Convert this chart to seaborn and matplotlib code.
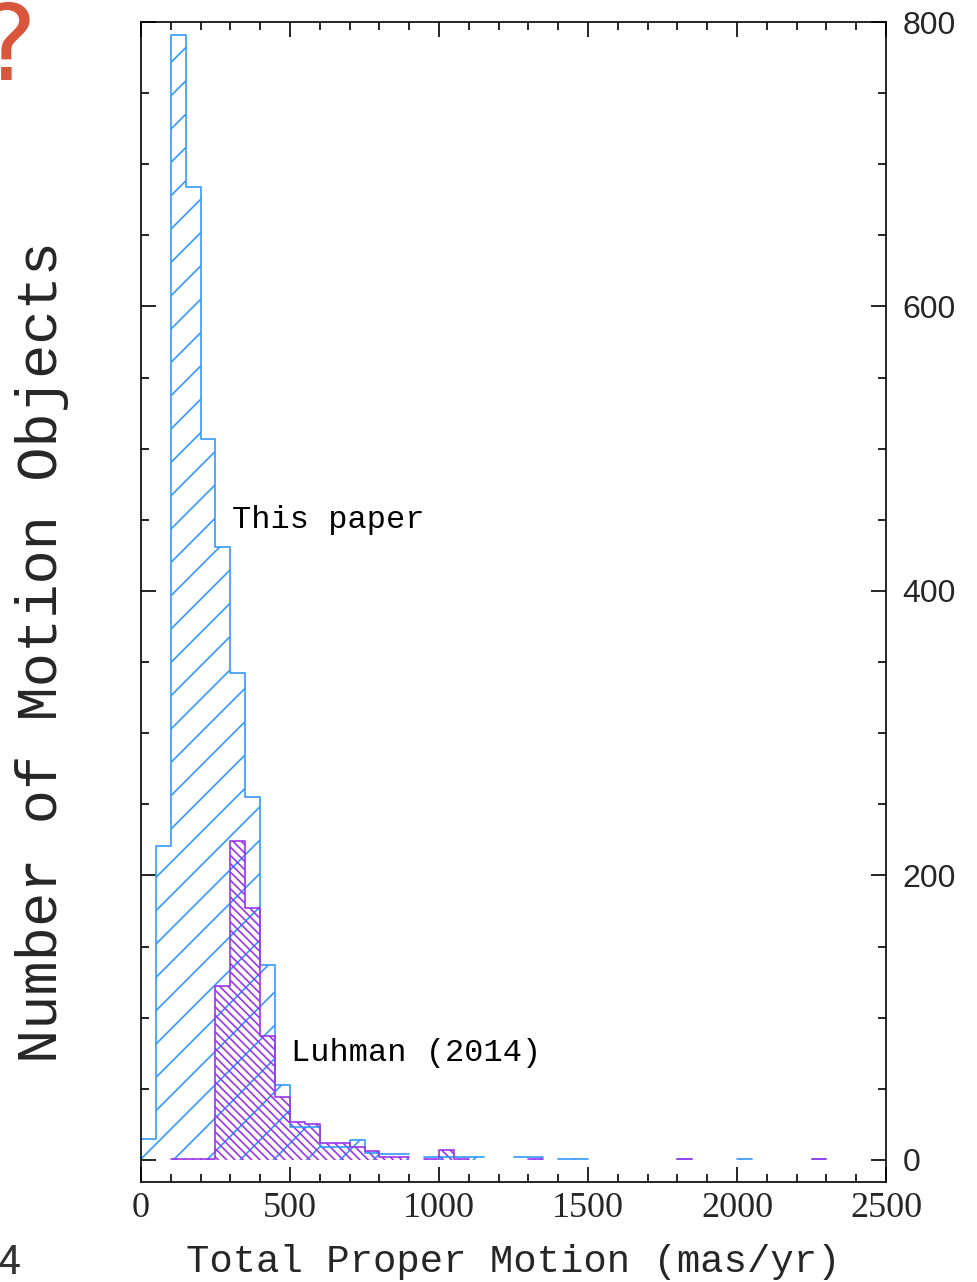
import numpy as np
import pandas as pd
import matplotlib
matplotlib.use("Agg")
import matplotlib.pyplot as plt
from matplotlib.ticker import MultipleLocator
import seaborn as sns

# ---------------- data ----------------
bin_width = 50          # mas/yr
x_range = (0, 2500)

# "This paper": left edge of each non-empty bin and its count
this_lo = [0, 50, 100, 150, 200, 250, 300, 350, 400, 450, 500, 550, 600, 650,
           700, 750, 800, 850, 950, 1000, 1050, 1100, 1250, 1300, 1400, 1450,
           1800, 2000, 2250]
this_n = [15, 221, 791, 684, 507, 431, 342, 255, 137, 53, 23, 23, 9, 9,
          14, 5, 4, 4, 2, 2, 2, 2, 2, 2, 1, 1, 1, 1, 1]

# "Luhman (2014)"
luh_lo = [100, 150, 200, 250, 300, 350, 400, 450, 500, 550, 600, 650, 700,
          750, 800, 850, 950, 1000, 1050, 1300, 1800, 2250]
luh_n = [1, 1, 1, 122, 224, 177, 87, 44, 27, 25, 12, 12, 9, 6, 2, 2, 1, 7,
         1, 1, 1, 1]

x_ticks = [0, 500, 1000, 1500, 2000, 2500]
y_ticks = [0, 200, 400, 600, 800]

label_this = "This paper"
label_luh = "Luhman (2014)"
x_title = "Total Proper Motion (mas/yr)"
y_title = "Number of Motion Objects"

# ---------------- style ----------------
sns.set_style("ticks")
plt.rcParams["hatch.linewidth"] = 1.2
plt.rcParams["axes.linewidth"] = 1.2

BLUE = "#3399ff"
PURPLE = "#9a36ec"
BACKSLASH = chr(92)

fig = plt.figure(figsize=(9.78, 12.82), dpi=100)
ax = fig.add_axes([141 / 978, 1 - 1182 / 1282, (886 - 141) / 978, (1182 - 22) / 1282])

all_edges = [float(v) for v in np.arange(x_range[0], x_range[1] + bin_width, bin_width)]


def runs(lo, n):
    groups = []
    cur_lo, cur_n = [lo[0]], [n[0]]
    for a, b in zip(lo[1:], n[1:]):
        if a == cur_lo[-1] + bin_width:
            cur_lo.append(a)
            cur_n.append(b)
        else:
            groups.append((cur_lo, cur_n))
            cur_lo, cur_n = [a], [b]
    groups.append((cur_lo, cur_n))
    return groups


def hist(lo, n, bins, **kws):
    df = pd.DataFrame({"pm": [v + bin_width / 2 for v in lo],
                       "count": [float(c) for c in n]})
    sns.histplot(data=df, x="pm", weights="count", bins=bins,
                 element="step", ax=ax, **kws)


def draw(lo, n, color, hatch):
    before = len(ax.collections)
    hist(lo, n, all_edges, fill=True, color=color, linewidth=0)
    for coll in ax.collections[before:]:
        coll.set_facecolor("none")
        coll.set_edgecolor(color)
        coll.set_linewidth(0)
        coll.set_hatch(hatch)
    for rlo, rn in runs(lo, n):
        e = [float(v) for v in np.arange(rlo[0], rlo[-1] + 2 * bin_width, bin_width)]
        hist(rlo, rn, e, fill=False, color=color, linewidth=1.2)


draw(this_lo, this_n, BLUE, "/")
draw(luh_lo, luh_n, PURPLE, BACKSLASH * 4)

ax.set_xlim(*x_range)
ax.set_ylim(-15.5, 800)
ax.set_xlabel("")
ax.set_ylabel("")

ax.set_xticks(x_ticks, [str(v) for v in x_ticks],
              fontfamily="Liberation Serif", fontsize=26)
ax.set_yticks(y_ticks, [str(v) for v in y_ticks],
              fontfamily="Liberation Sans", fontsize=23)
ax.xaxis.set_minor_locator(MultipleLocator(100))
ax.yaxis.set_minor_locator(MultipleLocator(50))
ax.tick_params(which="both", direction="in", top=True, bottom=True,
               left=True, right=True, labelleft=False, labelright=True,
               width=1.2, color="black")
ax.tick_params(which="major", length=11)
ax.tick_params(which="minor", length=5.5)
ax.tick_params(axis="x", which="major", pad=7)
ax.tick_params(axis="y", which="major", pad=12)
for s in ax.spines.values():
    s.set_visible(True)
    s.set_color("black")

ax.text(305, 450, label_this, fontfamily="Liberation Mono", fontsize=23,
        ha="left", va="center", color="black")
ax.text(503, 75, label_luh, fontfamily="Liberation Mono", fontsize=23,
        ha="left", va="center", color="black")

fig.text(0.525, 1 - 1262 / 1282, x_title, fontfamily="Liberation Mono",
         fontsize=28, ha="center", va="center")
fig.text(42 / 978, 1 - 652 / 1282, y_title, fontfamily="Liberation Mono",
         fontsize=41, ha="center", va="center", rotation=90)

# slide fragments visible at the edges of the screenshot
fig.text(-0.02, 1.0, "?", fontfamily="DejaVu Sans", fontsize=76,
         color="#d9553b", ha="left", va="top")
fig.text(-0.002, 1 - 1263 / 1282, "4", fontfamily="Roboto", fontsize=29,
         color="#333333", ha="left", va="center")

fig.savefig("out.png", dpi=100, facecolor="white")
